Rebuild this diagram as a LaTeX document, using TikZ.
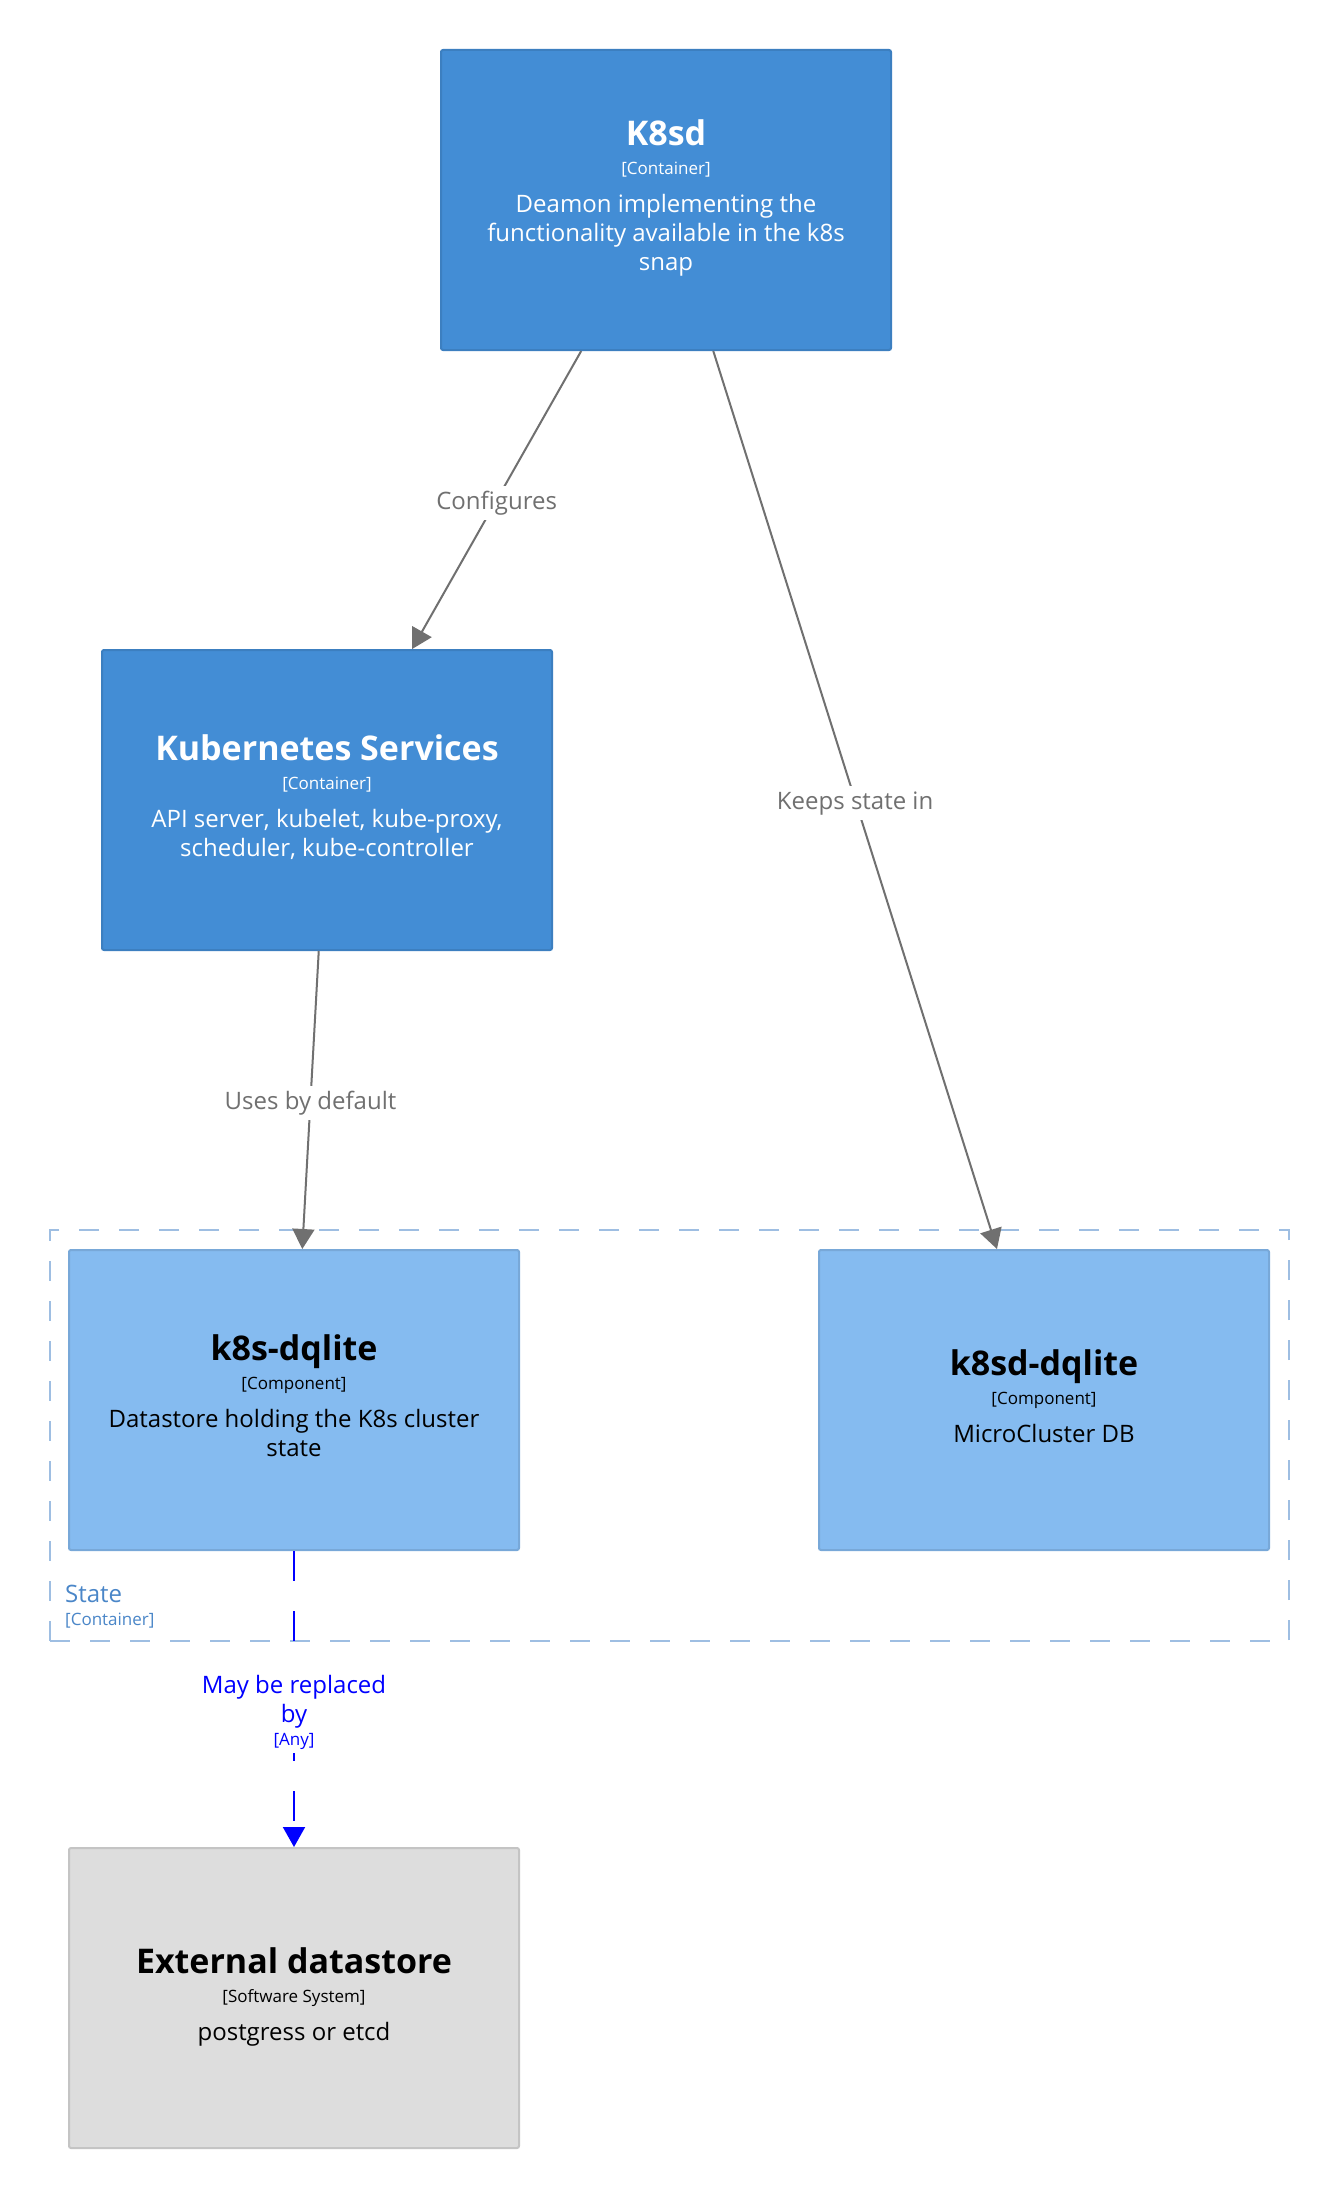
\documentclass[tikz,border=0pt]{standalone}
\usepackage{fontspec}
\setmainfont{Open Sans}
\usetikzlibrary{arrows.meta}
\definecolor{cfill}{HTML}{438DD5}
\definecolor{cline}{HTML}{3C7FC0}
\definecolor{mfill}{HTML}{85BBF0}
\definecolor{mline}{HTML}{78A8D8}
\definecolor{xfill}{HTML}{DDDDDD}
\definecolor{xline}{HTML}{C4C4C4}
\definecolor{relgray}{HTML}{707070}
\definecolor{bline}{HTML}{9EBEE2}
\definecolor{btext}{HTML}{4A86C8}
\definecolor{relblue}{HTML}{0000FF}
\begin{document}
\begin{tikzpicture}[x=1pt,y=-1pt,
  elem/.style={rectangle, minimum width=450pt, minimum height=300pt, inner sep=0pt, line width=2pt, rounded corners=2pt},
  container/.style={elem, fill=cfill, draw=cline},
  component/.style={elem, fill=mfill, draw=mline},
  extsys/.style={elem, fill=xfill, draw=xline},
  ttl/.style={anchor=base, inner sep=0pt, font=\fontsize{34}{40}\selectfont\bfseries},
  meta/.style={anchor=base, inner sep=0pt, font=\fontsize{17}{20}\selectfont},
  desc/.style={anchor=base, inner sep=0pt, font=\fontsize{24}{29}\selectfont},
  rel/.style={draw=relgray, line width=2pt, -{Triangle[length=20pt,width=22pt]}},
  relb/.style={draw=relblue, line width=2pt, dash pattern=on 30pt off 30pt, -{Triangle[length=20pt,width=22pt]}},
  rellabel/.style={fill=white, text=relgray, font=\fontsize{24}{29}\selectfont, inner sep=5pt, text height=18pt, text depth=6pt, yshift=-3pt},
  bluelab/.style={fill=white, text=relblue, anchor=base, inner xsep=3pt, inner ysep=4pt, font=\fontsize{24}{29}\selectfont, text height=19pt, text depth=7pt},
  bluemeta/.style={fill=white, text=relblue, anchor=base, inner xsep=3pt, inner ysep=3pt, font=\fontsize{17}{20}\selectfont, text height=13pt, text depth=5pt},
  boundary/.style={rectangle, draw=bline, line width=2pt, dash pattern=on 20pt off 20pt, inner sep=0pt, minimum width=1239pt, minimum height=411pt},
]
\fill[white] (0,0) rectangle (1340,2200);
\useasboundingbox (0,0) rectangle (1340,2200);

% boundary
\node[boundary] (state) at (669.5,1435.5) {};
\node[anchor=base west, inner sep=0pt, text=btext, font=\fontsize{24}{29}\selectfont] (statet) at (65,1602) {State};
\node[anchor=base west, inner sep=0pt, text=btext, font=\fontsize{17}{20}\selectfont] (statem) at (65,1625) {[Container]};

% elements
\node[container] (k8sd) at (666,200) {};
\node[ttl, text=white] (k8sdt) at (666,145) {K8sd};
\node[meta, text=white] (k8sdm) at (666,174) {[Container]};
\node[desc, text=white] (k8sdd1) at (666,212) {Deamon implementing the};
\node[desc, text=white] (k8sdd2) at (666,241) {functionality available in the k8s};
\node[desc, text=white] (k8sdd3) at (666,270) {snap};

\node[container] (ks) at (327,800) {};
\node[ttl, text=white] (kst) at (327,760) {Kubernetes Services};
\node[meta, text=white] (ksm) at (327,789) {[Container]};
\node[desc, text=white] (ksd1) at (327,827) {API server, kubelet, kube-proxy,};
\node[desc, text=white] (ksd2) at (327,856) {scheduler, kube-controller};

\node[component] (kq) at (294,1400) {};
\node[ttl] (kqt) at (294,1360) {k8s-dqlite};
\node[meta] (kqm) at (294,1389) {[Component]};
\node[desc] (kqd1) at (294,1427) {Datastore holding the K8s cluster};
\node[desc] (kqd2) at (294,1456) {state};

\node[component] (dq) at (1044,1400) {};
\node[ttl] (dqt) at (1044,1375) {k8sd-dqlite};
\node[meta] (dqm) at (1044,1404) {[Component]};
\node[desc] (dqd1) at (1044,1442) {MicroCluster DB};

\node[extsys] (ext) at (294,1998) {};
\node[ttl] (extt) at (294,1973) {External datastore};
\node[meta] (extm) at (294,2002) {[Software System]};
\node[desc] (extd1) at (294,2040) {postgress or etcd};

% relationships
\draw[rel] (k8sd) -- node[rellabel] (l1) {Configures} (ks);
\draw[rel] (k8sd) -- node[rellabel] (l2) {Keeps state in} (dq);
\draw[rel] (ks) -- node[rellabel] (l3) {Uses by default} (kq);
\draw[relb] (kq) -- (ext);
\node[bluelab] (l4a) at (294,1693) {May be replaced};
\node[bluelab] (l4b) at (294,1722) {by};
\node[bluemeta] (l4c) at (294,1745) {[Any]};
\end{tikzpicture}
\end{document}
